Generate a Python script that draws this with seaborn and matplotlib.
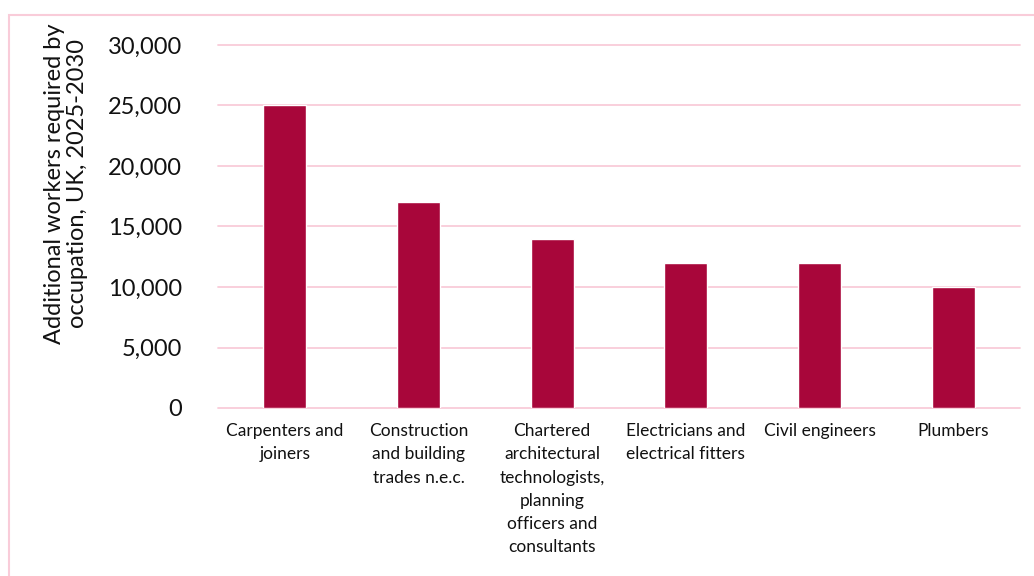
import matplotlib
matplotlib.use("Agg")
import matplotlib.pyplot as plt
import seaborn as sns
import pandas as pd
from matplotlib.patches import Rectangle

# Data
occupations = [
    "Carpenters and\njoiners",
    "Construction\nand building\ntrades n.e.c.",
    "Chartered\narchitectural\ntechnologists,\nplanning\nofficers and\nconsultants",
    "Electricians and\nelectrical fitters",
    "Civil engineers",
    "Plumbers",
]
workers = [25000, 17000, 14000, 12000, 12000, 10000]
y_ticks = [0, 5000, 10000, 15000, 20000, 25000, 30000]

df = pd.DataFrame({"occupation": occupations, "workers": workers})

sns.set_style("white")
plt.rcParams['font.family'] = ['Lato', 'DejaVu Sans']

BAR = "#A8063A"
PINK = "#F9CCD9"

fig = plt.figure(figsize=(10.34, 5.76), dpi=100)
ax = fig.add_axes([218 / 1034, 1 - 408 / 576, 802 / 1034, 363 / 576])

sns.barplot(data=df, x="occupation", y="workers", color=BAR, width=0.32,
            saturation=1, ax=ax, zorder=3)

ax.set_ylim(0, 30000)
ax.set_yticks(y_ticks)
ax.set_yticklabels([f"{v:,}" for v in y_ticks], fontsize=17, color="#111111")
for lbl in ax.get_xticklabels():
    lbl.set_fontsize(12.5)
    lbl.set_linespacing(1.55)
    lbl.set_color("#111111")
ax.tick_params(axis='x', length=0, pad=11)
ax.tick_params(axis='y', length=0, pad=26)
for v in y_ticks:
    ax.axhline(v, color=PINK, linewidth=1.3, zorder=0, clip_on=False)
for s in ax.spines.values():
    s.set_visible(False)

ax.set_xlabel("")
ax.set_ylabel("")
fig.text(66 / 1034, 1 - 184 / 576,
         "Additional workers required by\noccupation, UK, 2025-2030",
         rotation=90, ha="center", va="center", fontsize=17,
         linespacing=1.15, color="#111111")

# outer frame
fig.patches.append(Rectangle((9 / 1034, -0.1), 1.2, 0.1 + 1 - 15 / 576,
                             transform=fig.transFigure, fill=False,
                             edgecolor=PINK, linewidth=1.5))

fig.savefig("out.png", dpi=100)
